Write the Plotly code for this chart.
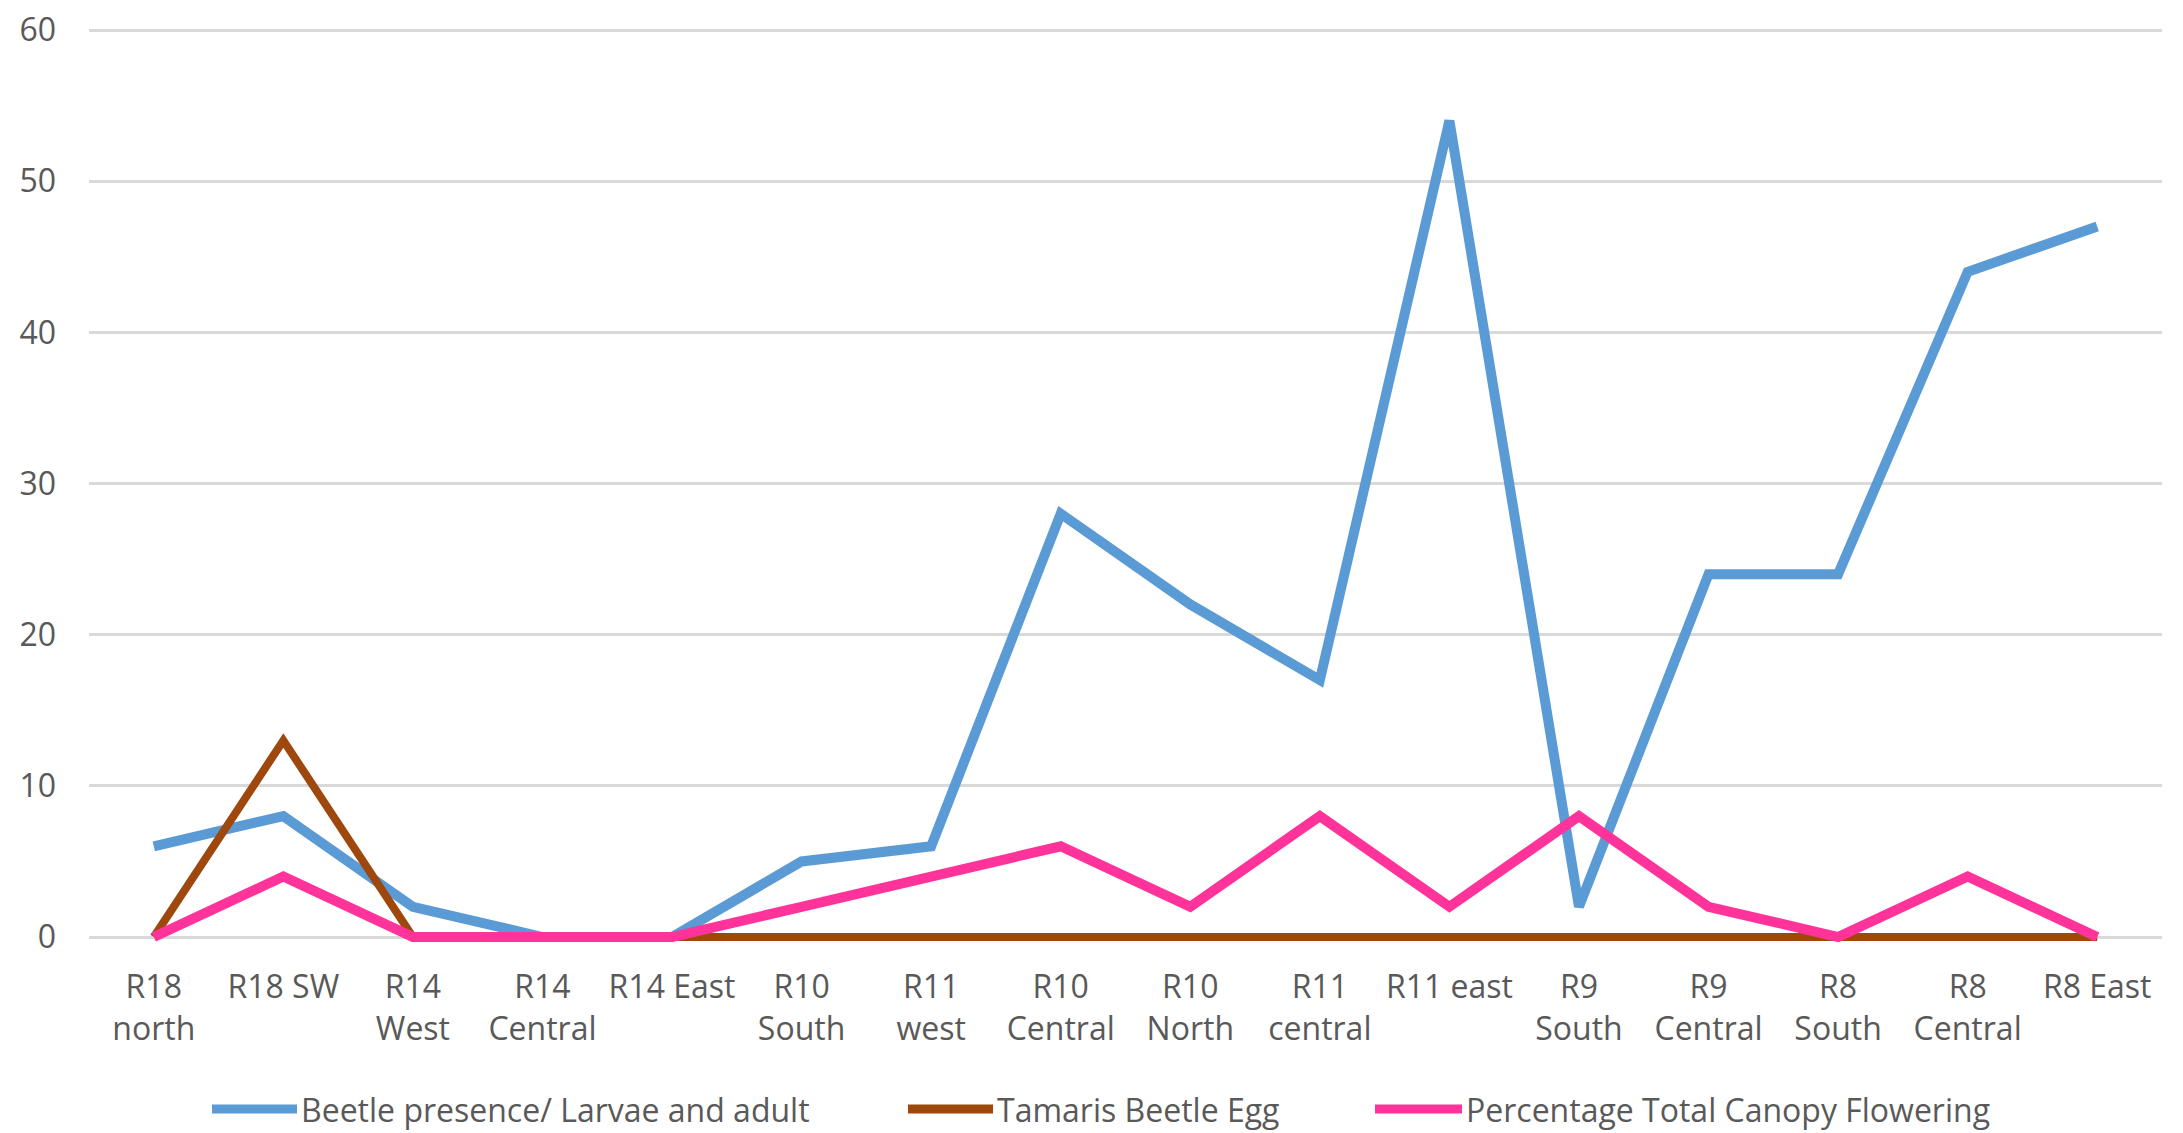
import plotly.graph_objects as go

categories = ["R18<br>north", "R18 SW", "R14<br>West", "R14<br>Central", "R14 East",
              "R10<br>South", "R11<br>west", "R10<br>Central", "R10<br>North", "R11<br>central",
              "R11 east", "R9<br>South", "R9<br>Central", "R8<br>South", "R8<br>Central", "R8 East"]
beetle_presence = [6, 8, 2, 0, 0, 5, 6, 28, 22, 17, 54, 2, 24, 24, 44, 47]
beetle_egg = [0, 13, 0, 0, 0, 0, 0, 0, 0, 0, 0, 0, 0, 0, 0, 0]
canopy_flowering = [0, 4, 0, 0, 0, 2, 4, 6, 2, 8, 2, 8, 2, 0, 4, 0]
series_names = ["Beetle presence/ Larvae and adult", "Tamaris Beetle Egg",
                "Percentage Total Canopy Flowering"]
y_ticks = [0, 10, 20, 30, 40, 50, 60]

colors = ["#5b9bd5", "#9e480e", "#ff3399"]
widths = [10, 8, 10]
series = [beetle_presence, beetle_egg, canopy_flowering]

FONT = "Open Sans"
FS = 32
TXT = "#595959"

# page body has an 8px margin; work in screen pixels and shift
OFF = 8
W, H = 2183 - OFF, 1133 - OFF
x_left, x_right = 89, 2162          # plot area (screen px)
y_top60, y_zero = 30, 937           # gridlines 60 and 0 (screen px)
pad = 8                             # extra px so thick lines at 0 aren't clipped
unit = (y_zero - y_top60) / 60.0

ml = x_left - OFF
mr = W - (x_right - OFF)
mt = (y_top60 - pad) - OFF
mb = H - (y_zero + pad - OFF)
pw, ph = W - ml - mr, H - mt - mb
yr = [-pad / unit, 60 + pad / unit]

def px(x):
    return (x - OFF - ml) / pw
def py(y):
    return (H - mb - (y - OFF)) / ph

fig = go.Figure()
xs = list(range(len(categories)))
for name, vals, c, w in zip(series_names, series, colors, widths):
    fig.add_trace(go.Scatter(x=xs, y=vals, mode="lines", name=name,
                             line=dict(color=c, width=w), showlegend=False))

# custom legend (long line symbols like the original)
leg_y = py(1109)
leg_items = [(212, 297), (908, 993), (1375, 1462)]
for (x0, x1), name, c in zip(leg_items, series_names, colors):
    fig.add_shape(type="line", xref="paper", yref="paper", x0=px(x0), x1=px(x1),
                  y0=leg_y, y1=leg_y, line=dict(color=c, width=9))
    fig.add_annotation(xref="paper", yref="paper", x=px(x1 + 2), y=leg_y, text=name,
                       showarrow=False, xanchor="left", yanchor="middle",
                       font=dict(family=FONT, size=FS, color=TXT))

fig.update_layout(
    width=W, height=H,
    margin=dict(l=ml, r=mr, t=mt, b=mb, autoexpand=False),
    paper_bgcolor="white", plot_bgcolor="white",
    font=dict(family=FONT, size=FS, color=TXT),
    showlegend=False,
)
fig.update_xaxes(range=[-0.5, len(categories) - 0.5], tickmode="array", tickvals=xs,
                 ticktext=categories, showgrid=False, zeroline=False, showline=False,
                 ticks="", ticklabelstandoff=20, automargin=False,
                 ticklabeloverflow="allow",
                 tickfont=dict(family=FONT, size=FS, color=TXT))
fig.update_yaxes(range=yr, tickmode="array", tickvals=y_ticks, showgrid=True,
                 gridcolor="#d9d9d9", gridwidth=3, zeroline=False, showline=False,
                 ticks="", ticklabelstandoff=32, automargin=False,
                 ticklabeloverflow="allow",
                 tickfont=dict(family=FONT, size=FS, color=TXT))

fig.write_html("out.html")
